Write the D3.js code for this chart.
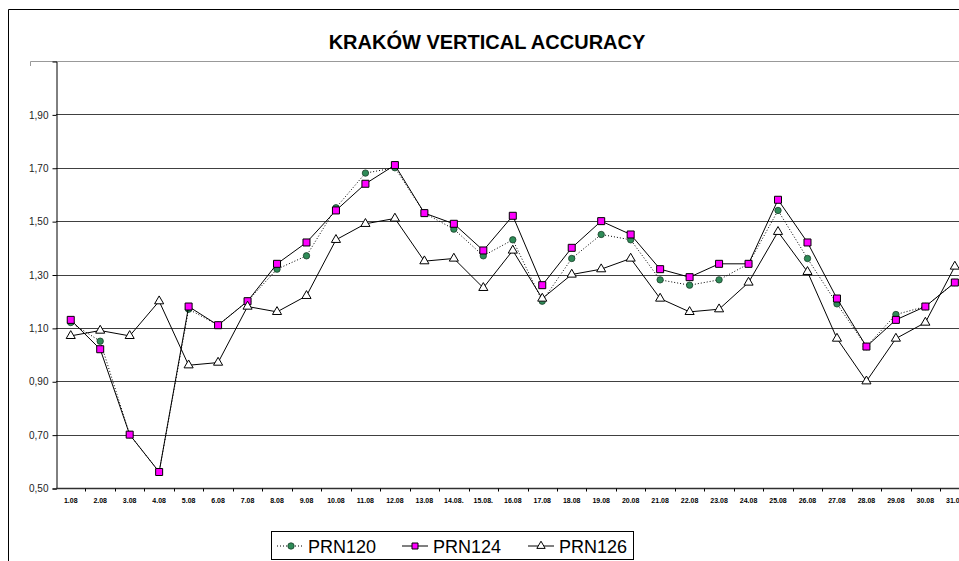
<!DOCTYPE html>
<html>
<head>
<meta charset="utf-8">
<script src="https://cdn.jsdelivr.net/npm/d3@7"></script>
<style>
  body { margin: 0; background: #fff; }
  svg { display: block; font-family: Arial, 'Liberation Sans', sans-serif; }
</style>
</head>
<body>
<div id="chart"></div>
<script>
// Chart data
const days = ['1.08', '2.08', '3.08', '4.08', '5.08', '6.08', '7.08', '8.08', '9.08', '10.08',
  '11.08', '12.08', '13.08', '14.08.', '15.08.', '16.08', '17.08', '18.08', '19.08', '20.08',
  '21.08', '22.08', '23.08', '24.08', '25.08', '26.08', '27.08', '28.08', '29.08', '30.08', '31.08']
const prn120 = [1.12, 1.05, 0.70, 0.56, 1.17, 1.11, 1.20, 1.32, 1.37, 1.55,
  1.68, 1.70, 1.53, 1.47, 1.37, 1.43, 1.20, 1.36, 1.45, 1.43,
  1.28, 1.26, 1.28, 1.34, 1.54, 1.36, 1.19, 1.03, 1.15, 1.18, 1.27]
const prn124 = [1.13, 1.02, 0.70, 0.56, 1.18, 1.11, 1.20, 1.34, 1.42, 1.54,
  1.64, 1.71, 1.53, 1.49, 1.39, 1.52, 1.26, 1.40, 1.50, 1.45,
  1.32, 1.29, 1.34, 1.34, 1.58, 1.42, 1.21, 1.03, 1.13, 1.18, 1.27]
const prn126 = [1.07, 1.09, 1.07, 1.20, 0.96, 0.97, 1.18, 1.16, 1.22, 1.43,
  1.49, 1.51, 1.35, 1.36, 1.25, 1.39, 1.21, 1.30, 1.32, 1.36,
  1.21, 1.16, 1.17, 1.27, 1.46, 1.31, 1.06, 0.90, 1.06, 1.12, 1.33]
const seriesNames = ['PRN120', 'PRN124', 'PRN126']
const yTicks = [0.5, 0.7, 0.9, 1.1, 1.3, 1.5, 1.7, 1.9]
const title = 'KRAKÓW VERTICAL ACCURACY'

const width = 959,
  height = 561
const plotLeft = 56, plotTop = 61, plotBottom = 488
const band = 29.47

const svg = d3.select('#chart')
  .append('svg')
  .attr('width', width)
  .attr('height', height)

// outer chart border (only top and left show in the crop)
svg.append('path')
  .attr('d', `M8.5,${height} V9.5 H${width}`)
  .attr('fill', 'none')
  .attr('stroke', '#000')

svg.append('text')
  .attr('x', 487)
  .attr('y', 49)
  .attr('text-anchor', 'middle')
  .attr('font-weight', 'bold')
  .attr('font-size', 20)
  .text(title)

const xScale = d3.scaleBand()
  .domain(days)
  .range([plotLeft, plotLeft + band * days.length])

const yScale = d3.scaleLinear()
  .domain([0.5, 2.1])
  .range([plotBottom, plotTop])

// plot area top edge
svg.append('path')
  .attr('d', `M30.5,66 V${plotTop + 0.5} H${width}`)
  .attr('fill', 'none')
  .attr('stroke', '#999')

// gridlines
svg.append('g')
  .selectAll('line')
  .data(yTicks.slice(1))
  .enter()
  .append('line')
  .attr('x1', plotLeft)
  .attr('x2', width)
  .attr('y1', d => Math.round(yScale(d)) + 0.5)
  .attr('y2', d => Math.round(yScale(d)) + 0.5)
  .attr('stroke', '#404040')

const yAxis = d3.axisLeft(yScale)
  .tickValues(yTicks)
  .tickSize(4)
  .tickFormat(d => d3.format('.2f')(d).replace('.', ','))

const yAxisGroup = svg.append('g')
  .attr('transform', `translate(${plotLeft + 0.5}, 0.5)`)
  .call(yAxis)
yAxisGroup.select('.domain').attr('stroke', '#000')
yAxisGroup.selectAll('text')
  .attr('font-size', 10)
  .attr('font-family', 'Arial, sans-serif')
  .attr('fill', '#222')
  .attr('x', -8)

// x axis: ticks at band boundaries
const xAxisGroup = svg.append('g')
  .attr('transform', `translate(0, ${plotBottom + 0.5})`)
xAxisGroup.append('line')
  .attr('x1', plotLeft)
  .attr('x2', width)
  .attr('stroke', '#303030')
  .attr('stroke-width', 1.5)
xAxisGroup.selectAll('.tk')
  .data(days)
  .enter()
  .append('line')
  .attr('class', 'tk')
  .attr('x1', d => Math.round(xScale(d) + band) + 0.5)
  .attr('x2', d => Math.round(xScale(d) + band) + 0.5)
  .attr('y1', 0)
  .attr('y2', 3)
  .attr('stroke', '#000')
xAxisGroup.selectAll('.lbl')
  .data(days)
  .enter()
  .append('text')
  .attr('class', 'lbl')
  .attr('x', d => xScale(d) + band / 2)
  .attr('y', 14)
  .attr('text-anchor', 'middle')
  .attr('font-size', 7)
  .attr('font-weight', 'bold')
  .text(d => d)

const cx = i => xScale(days[i]) + band / 2

const line = d3.line()
  .x((d, i) => cx(i))
  .y(d => yScale(d))

// PRN120
svg.append('path')
  .datum(prn120)
  .attr('d', line)
  .attr('fill', 'none')
  .attr('stroke', '#000')
  .attr('stroke-dasharray', '1,2')
svg.append('g')
  .selectAll('circle')
  .data(prn120)
  .enter()
  .append('circle')
  .attr('cx', (d, i) => cx(i))
  .attr('cy', d => yScale(d))
  .attr('r', 3.2)
  .attr('fill', '#2e8b57')
  .attr('stroke', '#1a3d2a')
  .attr('stroke-width', 0.8)

// PRN124
svg.append('path')
  .datum(prn124)
  .attr('d', line)
  .attr('fill', 'none')
  .attr('stroke', '#000')
svg.append('g')
  .selectAll('path')
  .data(prn124)
  .enter()
  .append('path')
  .attr('d', d3.symbol(d3.symbolSquare, 49))
  .attr('transform', (d, i) => `translate(${cx(i)}, ${yScale(d)})`)
  .attr('fill', '#ff00ff')
  .attr('stroke', '#000')
  .attr('stroke-width', 1)

// PRN126
svg.append('path')
  .datum(prn126)
  .attr('d', line)
  .attr('fill', 'none')
  .attr('stroke', '#000')
svg.append('g')
  .selectAll('path')
  .data(prn126)
  .enter()
  .append('path')
  .attr('d', d3.symbol(d3.symbolTriangle, 36))
  .attr('transform', (d, i) => `translate(${cx(i)}, ${yScale(d)})`)
  .attr('fill', '#fff')
  .attr('stroke', '#000')
  .attr('stroke-width', 1)

// legend
const legend = svg.append('g')
legend.append('rect')
  .attr('x', 271.5)
  .attr('y', 531.5)
  .attr('width', 362)
  .attr('height', 28)
  .attr('fill', '#fff')
  .attr('stroke', '#000')

const legendX = [277, 402, 528]
seriesNames.forEach((name, i) => {
  const g = legend.append('g').attr('transform', `translate(${legendX[i]}, 546)`)
  g.append('line')
    .attr('x1', 0)
    .attr('x2', 26)
    .attr('stroke', '#000')
    .attr('stroke-dasharray', i === 0 ? '1,2' : null)
  if (i === 0) {
    g.append('circle').attr('cx', 14).attr('r', 3.2)
      .attr('fill', '#2e8b57').attr('stroke', '#1a3d2a').attr('stroke-width', 0.8)
  } else if (i === 1) {
    g.append('path').attr('d', d3.symbol(d3.symbolSquare, 36)).attr('transform', 'translate(13, 0)')
      .attr('fill', '#ff00ff').attr('stroke', '#000')
  } else {
    g.append('path').attr('d', d3.symbol(d3.symbolTriangle, 30)).attr('transform', 'translate(13, 0)')
      .attr('fill', '#fff').attr('stroke', '#000')
  }
  g.append('text')
    .attr('x', 31)
    .attr('y', 7)
    .attr('font-size', 18)
    .text(name)
})
</script>
</body>
</html>
